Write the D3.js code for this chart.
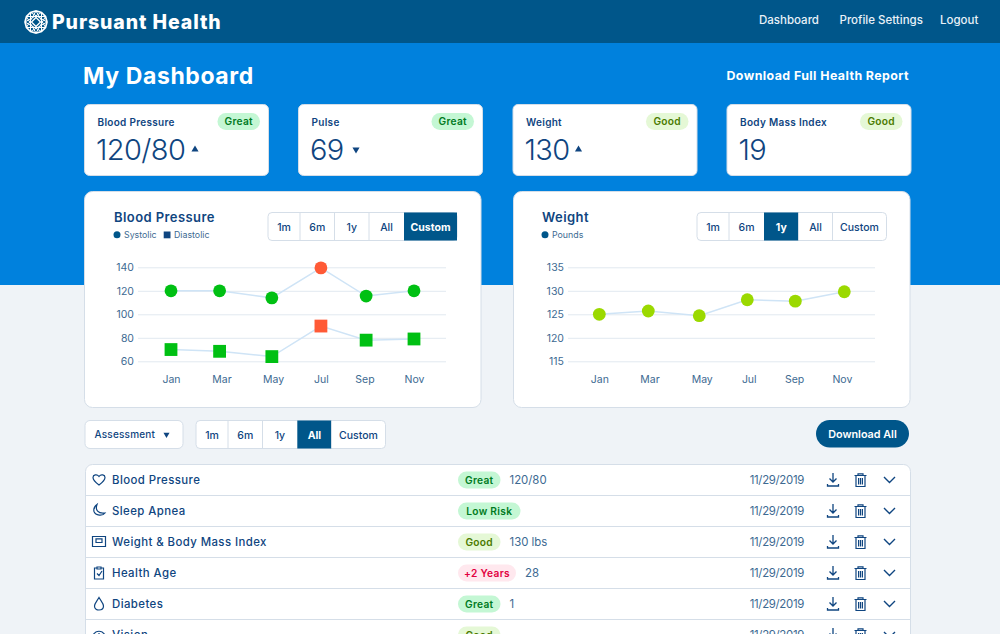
<!DOCTYPE html>
<html>
<head>
<meta charset="utf-8">
<script src="https://cdn.jsdelivr.net/npm/d3@7"></script>
<style>
  html, body { margin: 0; padding: 0; background: #eff3f7; overflow: hidden; }
  svg { display: block; }
  text { font-family: Inter, "Open Sans", sans-serif; }
  .axis text { font-size: 10.5px; fill: #3d6a92; font-family: Inter, sans-serif; }
  .axis line { stroke: #e1e9f0; }
  .axis path { display: none; }
</style>
</head>
<body>
<svg id="page" width="1000" height="634"></svg>
<script>
// chart values
const monthLabels = ["Jan", "Mar", "May", "Jul", "Sep", "Nov"]
const bpTickMonths = [1, 3.08, 5.2, 7.17, 8.96, 11]
const bpMonths = [1, 3, 5.15, 7.17, 9.03, 11]
const systolic = [120, 120, 114, 139.5, 115.5, 120]
const diastolic = [70, 68.5, 64, 90, 78, 79]
const bpStatus = ["ok", "ok", "ok", "high", "ok", "ok"]
const bpTicks = [60, 80, 100, 120, 140]

const wtTickMonths = [1, 3.05, 5.18, 7.1, 8.95, 10.9]
const wtMonths = [1, 3, 5.08, 7.04, 9, 11]
const pounds = [125, 125.7, 124.7, 128.1, 127.8, 129.8]
const wtTicks = [115, 120, 125, 130, 135]

const rangeLabels = ["1m", "6m", "1y", "All", "Custom"]
const navLabels = ["Dashboard", "Profile Settings", "Logout"]

const cardTitles = ["Blood Pressure", "Pulse", "Weight", "Body Mass Index"]
const cardValues = ["120/80", "69", "130", "19"]
const cardBadges = ["Great", "Great", "Good", "Good"]
const cardTrends = ["up", "down", "up", ""]

const rowNames = ["Blood Pressure", "Sleep Apnea", "Weight & Body Mass Index", "Health Age", "Diabetes", "Vision"]
const rowBadges = ["Great", "Low Risk", "Good", "+2 Years", "Great", "Good"]
const rowValues = ["120/80", "", "130 lbs", "28", "1", ""]
const rowDates = ["11/29/2019", "11/29/2019", "11/29/2019", "11/29/2019", "11/29/2019", "11/29/2019"]

const navy = "#00568a"
const ink = "#0f4580"
const border = "#d5dee8"
const badgeStyle = {
  "Great": { bg: "#c4f7d4", fg: "#007a22" },
  "Low Risk": { bg: "#c4f7d4", fg: "#007a22" },
  "Good": { bg: "#e5f8d6", fg: "#4a7a00" },
  "+2 Years": { bg: "#ffe8ee", fg: "#e2003f" }
}

const svg = d3.select("#page")

// backgrounds
svg.append("rect").attr("width", 1000).attr("height", 285).attr("fill", "#0081dd")
svg.append("rect").attr("width", 1000).attr("height", 43).attr("fill", navy)

// spacing widens Inter to about the width of the original lettering
function label(g, x, y, str, size, weight, color, anchor, spacing) {
  return g.append("text").attr("x", x).attr("y", y).text(str)
    .attr("font-size", size).attr("font-weight", weight).attr("fill", color)
    .attr("text-anchor", anchor || "start")
    .attr("letter-spacing", spacing || 0)
}

function panel(g, x, y, w, h, r) {
  return g.append("rect").attr("x", x).attr("y", y).attr("width", w).attr("height", h)
    .attr("rx", r).attr("fill", "#fff").attr("stroke", border).attr("stroke-width", 1)
}

// logo
const logo = svg.append("g").attr("transform", "translate(36,22)")
  .attr("fill", "none").attr("stroke", "#fff").attr("stroke-width", 1)
const logoPts = d3.range(12).map(i => [11 * Math.cos(i * Math.PI / 6), 11 * Math.sin(i * Math.PI / 6)])
logo.append("path").attr("d", d3.line().curve(d3.curveLinearClosed)(logoPts)).attr("stroke-width", 1.7)
d3.range(12).forEach(i => {
  logo.append("line")
    .attr("x1", logoPts[i][0]).attr("y1", logoPts[i][1])
    .attr("x2", logoPts[(i + 4) % 12][0]).attr("y2", logoPts[(i + 4) % 12][1])
})
logo.append("path").attr("d", "M0,-4.5L4.5,0L0,4.5L-4.5,0Z").attr("stroke-width", 1.3)

label(svg, 52, 29, "Pursuant Health", 19.5, 800, "#fff", "start", 0.9)

const navX = [759, 839.5, 940]
navLabels.forEach((n, i) => label(svg, navX[i], 24, n, 11.5, 500, "#e8f1f8"))

label(svg, 83, 84, "My Dashboard", 23, 700, "#fff", "start", 0.6)
label(svg, 909, 80, "Download Full Health Report", 12.4, 700, "#fff", "end", 0.42)

function badge(g, x, y, str, w) {
  const st = badgeStyle[str]
  g.append("rect").attr("x", x).attr("y", y).attr("width", w).attr("height", 17).attr("rx", 8.5).attr("fill", st.bg)
  label(g, x + w / 2, y + 12.2, str, 10.2, 600, st.fg, "middle", 0.3)
}

// summary cards
const cardX = [84.5, 298.5, 513, 727]
const arrowX = [195, 356, 578.5, 0]
cardTitles.forEach((t, i) => {
  const g = svg.append("g")
  const x = cardX[i]
  panel(g, x, 104.5, 184, 71, 5)
  label(g, x + 13, 126, t, 10, 600, ink, "start", 0.3)
  badge(g, x + 133, 113, cardBadges[i], 42.5)
  label(g, x + 11.5, 160, cardValues[i], 29, 300, ink, "start", -0.6)
  if (cardTrends[i]) {
    const tri = d3.symbol().type(d3.symbolTriangle).size(22)()
    g.append("path").attr("d", tri).attr("fill", ink)
      .attr("transform", "translate(" + arrowX[i] + ",149.5)" + (cardTrends[i] == "down" ? " rotate(180)" : ""))
  }
})

// segmented range buttons
function rangeGroup(g, edges, y, h, active) {
  g.append("rect").attr("x", edges[0]).attr("y", y).attr("width", edges[5] - edges[0]).attr("height", h)
    .attr("rx", 4).attr("fill", "#fff").attr("stroke", border)
  rangeLabels.forEach((r, i) => {
    const on = i == active
    if (on) {
      g.append("rect").attr("x", edges[i]).attr("y", y).attr("width", edges[i + 1] - edges[i]).attr("height", h)
        .attr("fill", navy)
    } else if (i > 0) {
      g.append("line").attr("x1", edges[i]).attr("x2", edges[i]).attr("y1", y).attr("y2", y + h).attr("stroke", border)
    }
    label(g, (edges[i] + edges[i + 1]) / 2, y + h / 2 + 4, r, 10.5, on ? 700 : 500, on ? "#fff" : ink, "middle")
  })
}

// charts
function chartCard(opts) {
  const g = svg.append("g")
  panel(g, opts.x, 191.5, 396.5, 216, 8)
  label(g, opts.titleX, 222, opts.title, 13, 600, ink, "start", 0.42)
  rangeGroup(g, opts.edges, 212.5, 28, opts.active)

  opts.legend.forEach(l => {
    if (l.shape == "circle") g.append("circle").attr("cx", l.x).attr("cy", 234.8).attr("r", 3.5).attr("fill", navy)
    else g.append("rect").attr("x", l.x - 3.3).attr("y", 231.5).attr("width", 6.8).attr("height", 6.8).attr("fill", ink)
    label(g, l.x + 7, 238, l.name, 8.8, 400, "#3d6a92")
  })

  const x = d3.scaleLinear().domain([1, 11]).range(opts.xRange)
  const y = d3.scaleLinear().domain(d3.extent(opts.ticks)).range([361.3, 267.3])

  // grid lines come from the left axis, stretched over the plot
  const left = d3.axisLeft(y).tickValues(opts.ticks).tickSize(-(opts.gridEnd - opts.gridStart)).tickPadding(4)
  g.append("g").attr("class", "axis").attr("transform", "translate(" + opts.gridStart + ",0)").call(left)

  const bottom = d3.axisBottom(x).tickValues(opts.tickMonths).tickSize(0).tickPadding(14)
    .tickFormat((d, i) => monthLabels[i])
  g.append("g").attr("class", "axis").attr("transform", "translate(0,361.3)").call(bottom)

  const line = d3.line().x(d => x(d.m)).y(d => y(d.v))
  opts.series.forEach(s => {
    const pts = s.values.map((v, i) => ({ m: s.months[i], v: v, c: s.color(i) }))
    g.append("path").attr("d", line(pts)).attr("fill", "none").attr("stroke", "#cfe4f6").attr("stroke-width", 1.5)
    if (s.shape == "circle") {
      g.selectAll(null).data(pts).join("circle")
        .attr("cx", d => x(d.m)).attr("cy", d => y(d.v)).attr("r", 6.4).attr("fill", d => d.c)
    } else {
      g.selectAll(null).data(pts).join("rect")
        .attr("x", d => x(d.m) - 6.4).attr("y", d => y(d.v) - 6.4).attr("width", 12.8).attr("height", 12.8).attr("fill", d => d.c)
    }
  })
}

const bpColor = i => bpStatus[i] == "high" ? "#ff5a36" : "#00c013"

chartCard({
  x: 84.5, titleX: 114, title: "Blood Pressure",
  edges: [268, 300, 334.5, 369, 404, 457], active: 4,
  legend: [{ shape: "circle", x: 117, name: "Systolic" }, { shape: "square", x: 167, name: "Diastolic" }],
  xRange: [171, 414], gridStart: 138, gridEnd: 446, ticks: bpTicks, tickMonths: bpTickMonths,
  series: [
    { shape: "circle", months: bpMonths, values: systolic, color: bpColor },
    { shape: "square", months: bpMonths, values: diastolic, color: bpColor }
  ]
})

chartCard({
  x: 513.5, titleX: 542, title: "Weight",
  edges: [697, 729, 764, 798.5, 832.5, 886.5], active: 2,
  legend: [{ shape: "circle", x: 545, name: "Pounds" }],
  xRange: [599.3, 844.3], gridStart: 568, gridEnd: 875, ticks: wtTicks, tickMonths: wtTickMonths,
  series: [{ shape: "circle", months: wtMonths, values: pounds, color: () => "#9bd900" }]
})

// filter row
const filters = svg.append("g")
panel(filters, 85, 420.5, 98, 28, 5)
label(filters, 94.5, 438, "Assessment", 10, 500, ink, "start", 0.2)
filters.append("path").attr("d", d3.symbol().type(d3.symbolTriangle).size(16)()).attr("fill", ink)
  .attr("transform", "translate(166.5,434.5) rotate(180)")
rangeGroup(filters, [196, 228, 262.5, 297.3, 331.5, 385.5], 420.5, 28, 3)
filters.append("rect").attr("x", 816).attr("y", 420).attr("width", 93).attr("height", 27.5).attr("rx", 13.75).attr("fill", navy)
label(filters, 862.5, 438, "Download All", 10.8, 600, "#fff", "middle")

// list of assessments
const rowIcons = [
  "M7,12 C3,9 1,7 1,4.5 C1,2 4.8,0.5 7,3.5 C9.2,0.5 13,2 13,4.5 C13,7 11,9 7,12Z",
  "M5,0.5 C3,6 6,10 13,9 C11,12 3.5,12 2,7.5 C1.3,4.5 3,2 5,0.5Z",
  "M0.5,1.5H13.5V11.5H0.5Z M4,3.8H10V7.5H4Z",
  "M3,2H5 M9,2H11.5V13H2.5V2H3 M5,1H9V3H5Z M5,7.5L7,9.5L10,5",
  "M7,0.5 C9,4 11.5,6.5 11.5,9 C11.5,11.5 9.5,13 7,13 C4.5,13 2.5,11.5 2.5,9 C2.5,6.5 5,4 7,0.5Z",
  "M1,7 C4,2 10,2 13,7 C10,12 4,12 1,7Z M7,5V9"
]
const rowPitch = 31
const list = svg.append("g")
list.append("rect").attr("x", 85.5).attr("y", 464.5).attr("width", 825).attr("height", 200).attr("rx", 7)
  .attr("fill", "#fff").attr("stroke", border)
rowNames.forEach((n, i) => {
  const top = 464.5 + i * rowPitch
  const mid = top + 15.5
  const g = list.append("g")
  if (i > 0) g.append("line").attr("x1", 85.5).attr("x2", 910.5).attr("y1", top).attr("y2", top).attr("stroke", border)
  g.append("path").attr("d", rowIcons[i]).attr("transform", "translate(92," + (mid - 7) + ")")
    .attr("fill", "none").attr("stroke", ink).attr("stroke-width", 1.2)
  label(g, 112, mid + 4, n, 11.4, 500, ink, "start", 0.42)
  const w = { "Low Risk": 62.5, "+2 Years": 58 }[rowBadges[i]] || 42.5
  badge(g, 458, mid - 8.5, rowBadges[i], w)
  label(g, 458 + w + 9, mid + 4, rowValues[i], 11.4, 400, "#3d6a92")
  label(g, 804, mid + 4, rowDates[i], 11.4, 400, "#3d6a92", "end", -0.3)

  // download, trash, chevron
  g.append("path").attr("transform", "translate(827," + (mid - 7) + ")")
    .attr("d", "M6,0V9 M2.5,5.5L6,9L9.5,5.5 M0.5,11V13H11.5V11")
    .attr("fill", "none").attr("stroke", ink).attr("stroke-width", 1.3)
  g.append("path").attr("transform", "translate(854," + (mid - 7) + ")")
    .attr("d", "M0.5,2.5H12.5 M4,2.5V0.8H9V2.5 M2,2.5V13.5H11V2.5 M4.6,5V11.5 M6.5,5V11.5 M8.4,5V11.5")
    .attr("fill", "none").attr("stroke", ink).attr("stroke-width", 1.2)
  g.append("path").attr("transform", "translate(884," + (mid - 3) + ")")
    .attr("d", "M0,0L5.5,5.5L11,0")
    .attr("fill", "none").attr("stroke", ink).attr("stroke-width", 1.4)
})
</script>
</body>
</html>
